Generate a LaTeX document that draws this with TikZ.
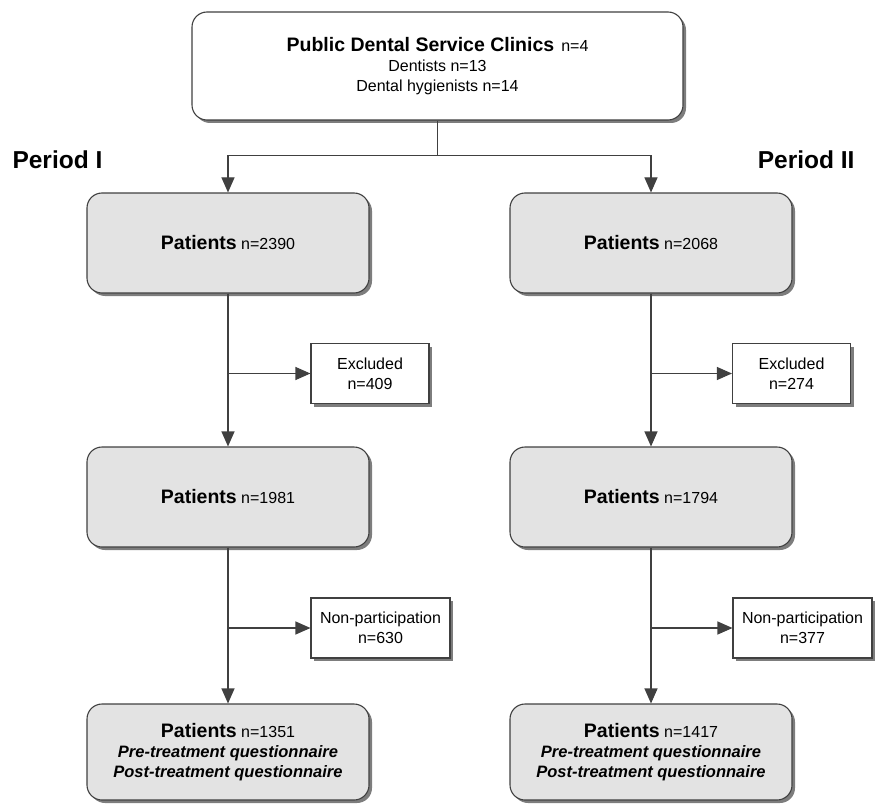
\documentclass[tikz,border=0pt]{standalone}
\usepackage{fontspec}
\setmainfont{Liberation Sans}
\usetikzlibrary{arrows.meta,shadows}
\definecolor{flowLine}{RGB}{64,64,64}
\definecolor{flowFill}{RGB}{227,227,227}
\definecolor{flowShadow}{RGB}{125,125,125}
\newcommand{\hd}[1]{{\fontsize{19.5}{20}\selectfont\bfseries #1}}
\newcommand{\qn}[1]{{\fontsize{16.5}{21}\selectfont\bfseries\itshape #1}}

\begin{document}
\begin{tikzpicture}[x=1pt, y=1pt]
  \tikzstyle{base} = [draw=flowLine, line width=1.1pt, align=center, font=\fontsize{16}{20}\selectfont, drop shadow={shadow xshift=3pt, shadow yshift=-3pt, fill=flowShadow, opacity=1}]
  \tikzstyle{patient} = [base, fill=flowFill, rounded corners=15pt, minimum width=282pt, minimum height=100pt]
  \tikzstyle{side} = [base, fill=white, minimum height=60pt, inner sep=4pt]
  \tikzstyle{arrow} = [-{Triangle[length=15pt, width=13pt]}, line width=1.1pt, flowLine]
  \tikzstyle{period} = [font=\fontsize{24.5}{24.5}\selectfont\bfseries]

  \useasboundingbox (0,0) rectangle (877,-805);

  % top
  \node[base, fill=white, rounded corners=15pt, minimum width=491pt, minimum height=108pt] (clinics) at (437.5,-66)
    {\hd{Public Dental Service Clinics}\hspace{7pt}n=4\\ Dentists n=13\\ Dental hygienists n=14};
  \node[period, anchor=base west] (per1) at (9,-168) {Period I};
  \node[period, anchor=base east] (per2) at (858,-168) {Period II};

  % period I
  \node[patient] (pa1) at (228,-243) {\hd{Patients} n=2390};
  \node[side, minimum width=118pt] (ex1) at (370,-373.5) {Excluded\\ n=409};
  \node[patient] (pb1) at (228,-497) {\hd{Patients} n=1981};
  \node[side, minimum width=139pt] (np1) at (380.5,-628) {Non-participation\\ n=630};
  \node[patient, minimum height=96pt] (pc1) at (228,-752) {\hd{Patients} n=1351\\ \qn{Pre-treatment questionnaire}\\ \qn{Post-treatment questionnaire}};

  % period II
  \node[patient] (pa2) at (651,-243) {\hd{Patients} n=2068};
  \node[side, minimum width=118pt] (ex2) at (791.5,-373.5) {Excluded\\ n=274};
  \node[patient] (pb2) at (651,-497) {\hd{Patients} n=1794};
  \node[side, minimum width=139pt] (np2) at (802.5,-628) {Non-participation\\ n=377};
  \node[patient, minimum height=96pt] (pc2) at (651,-752) {\hd{Patients} n=1417\\ \qn{Pre-treatment questionnaire}\\ \qn{Post-treatment questionnaire}};

  % connectors
  \coordinate (split) at ([yshift=-35pt]clinics.south);
  \draw[line width=1.1pt, flowLine] (clinics.south) -- (split);
  \draw[arrow] (split) -| (pa1.north);
  \draw[arrow] (split) -| (pa2.north);

  \draw[arrow] (pa1.south) -- (pb1.north);
  \draw[arrow] (pa1.south |- ex1.west) -- (ex1.west);
  \draw[arrow] (pb1.south) -- (pc1.north);
  \draw[arrow] (pb1.south |- np1.west) -- (np1.west);

  \draw[arrow] (pa2.south) -- (pb2.north);
  \draw[arrow] (pa2.south |- ex2.west) -- (ex2.west);
  \draw[arrow] (pb2.south) -- (pc2.north);
  \draw[arrow] (pb2.south |- np2.west) -- (np2.west);
\end{tikzpicture}
\end{document}
